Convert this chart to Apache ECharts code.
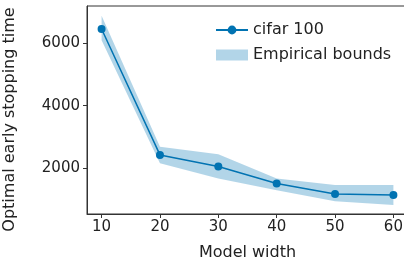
<!DOCTYPE html>
<html>
<head>
<meta charset="utf-8">
<script src="https://cdn.jsdelivr.net/npm/echarts@6/dist/echarts.min.js"></script>
<style>
  html, body { margin: 0; padding: 0; background: #fff; }
  #chart { width: 404px; height: 262px; }
</style>
</head>
<body>
<div id="chart"></div>
<script>
// model widths and the measured optimal stopping times
const widths = [10, 20, 30, 40, 50, 60];
const stopTime = [6460, 2420, 2050, 1500, 1165, 1135];
const lowerBound = [6100, 2150, 1660, 1285, 930, 815];
const upperBound = [6890, 2680, 2440, 1660, 1455, 1455];
const xTicks = [10, 20, 30, 40, 50, 60];
const yTicks = [2000, 4000, 6000];

const blue = '#0173b2';
const bandColor = 'rgba(1,115,178,0.3)';
const font = 'DejaVu Sans';

const pairs = arr => widths.map((w, i) => [w, arr[i]]);

// band = polygon through upper bounds then back along lower bounds
function renderBand(params, api) {
    if (params.dataIndex !== 0) return;
    const pts = [];
    widths.forEach((w, i) => pts.push(api.coord([w, upperBound[i]])));
    for (let i = widths.length - 1; i >= 0; i--) {
        pts.push(api.coord([widths[i], lowerBound[i]]));
    }
    return {
        type: 'polygon',
        shape: { points: pts },
        style: { fill: bandColor }
    };
}

const chart = echarts.init(document.getElementById('chart'));
chart.setOption({
    animation: false,
    grid: {
        left: 87,
        right: -4,
        top: 6,
        bottom: 48,
        outerBoundsMode: 'none',
        containLabel: false,
        show: true,
        borderColor: '#333',
        borderWidth: 1
    },
    legend: {
        left: 210,
        top: 17,
        orient: 'vertical',
        itemWidth: 32,
        itemHeight: 11,
        itemGap: 9,
        textStyle: { fontFamily: font, fontSize: 16, color: '#222' },
        data: [
            { name: 'cifar 100' },
            { name: 'Empirical bounds', icon: 'rect', itemStyle: { color: bandColor } }
        ]
    },
    xAxis: {
        type: 'value',
        min: 7.5,
        max: 62.5,
        name: 'Model width',
        nameLocation: 'middle',
        nameGap: 31,
        nameTextStyle: { fontFamily: font, fontSize: 16, color: '#222' },
        splitLine: { show: false },
        axisLine: { lineStyle: { color: '#333' } },
        axisTick: { customValues: xTicks, length: 4, lineStyle: { color: '#333' } },
        axisLabel: { customValues: xTicks, fontFamily: font, fontSize: 15, color: '#222', margin: 6 }
    },
    yAxis: {
        type: 'value',
        min: 523,
        max: 7200,
        name: 'Optimal early stopping time',
        nameLocation: 'middle',
        nameGap: 69,
        nameTextStyle: { fontFamily: font, fontSize: 16, color: '#222', padding: [0, 19, 0, 0] },
        splitLine: { show: false },
        axisLine: { show: true, lineStyle: { color: '#333' } },
        axisTick: { show: true, customValues: yTicks, length: 4, lineStyle: { color: '#333' } },
        axisLabel: {
            customValues: yTicks,
            formatter: v => String(v),
            fontFamily: font, fontSize: 15, color: '#222', margin: 7
        }
    },
    series: [
        {
            name: 'Empirical bounds',
            type: 'custom',
            renderItem: renderBand,
            data: pairs(upperBound),
            itemStyle: { color: bandColor },
            silent: true,
            z: 1
        },
        {
            name: 'cifar 100',
            type: 'line',
            data: pairs(stopTime),
            symbol: 'circle',
            symbolSize: 8,
            itemStyle: { color: blue },
            lineStyle: { color: blue, width: 1.5 },
            z: 5
        }
    ]
});
</script>
</body>
</html>
